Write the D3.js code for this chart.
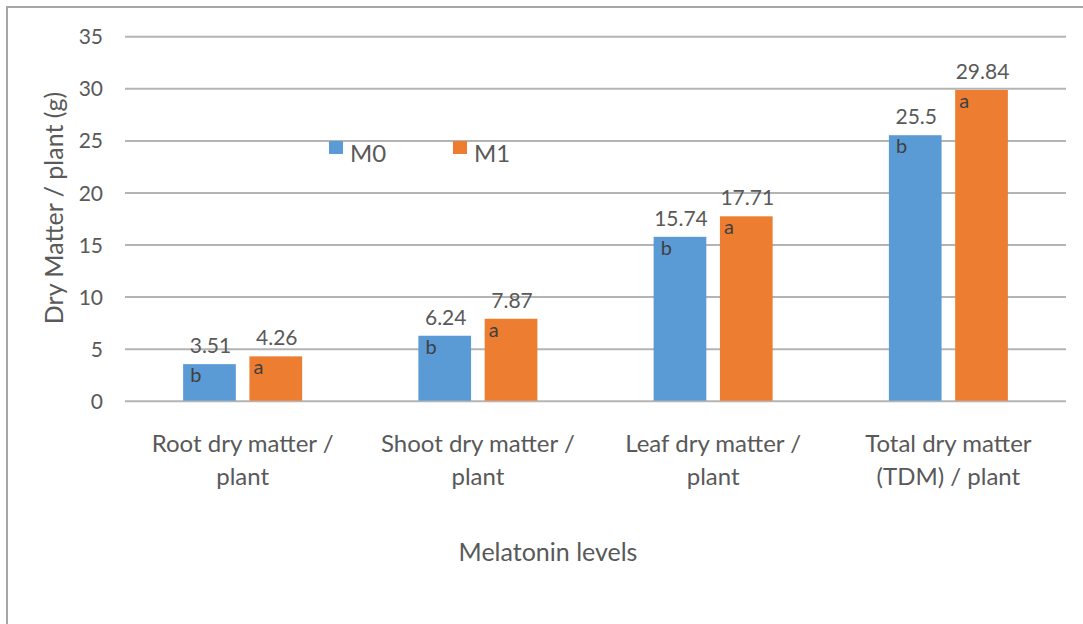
<!DOCTYPE html>
<html>
<head>
<meta charset="utf-8">
<script src="https://cdn.jsdelivr.net/npm/d3@7/dist/d3.min.js"></script>
<style>
  html, body { margin: 0; padding: 0; background: #fff; }
  svg { display: block; }
  text { font-family: Lato, "Open Sans", sans-serif; fill: #595959; }
</style>
</head>
<body>
<svg id="chart" width="1083" height="624"></svg>
<script>
// Dry matter per plant (g) by organ, for two melatonin levels
const categories = [
  ["Root dry matter /", "plant"],
  ["Shoot dry matter /", "plant"],
  ["Leaf dry matter /", "plant"],
  ["Total dry matter", "(TDM) / plant"]
];
const seriesNames = ["M0", "M1"];
const m0Values = [3.51, 6.24, 15.74, 25.5];
const m1Values = [4.26, 7.87, 17.71, 29.84];
const m0Letters = ["b", "b", "b", "b"];
const m1Letters = ["a", "a", "a", "a"];
const yTicks = [0, 5, 10, 15, 20, 25, 30, 35];
const colors = ["#5B9BD5", "#ED7D31"];

const svg = d3.select("#chart");
const W = 1083, H = 624;
const plot = { left: 125, right: 1066, top: 36.3, bottom: 400.7 };

// outer frame (left and top edges)
svg.append("path")
  .attr("d", `M7,${H} L7,7 L${W},7`)
  .attr("fill", "none").attr("stroke", "#a6a6a6").attr("stroke-width", 2);

const x0 = d3.scaleBand()
  .domain(d3.range(categories.length))
  .range([plot.left, plot.right])
  .paddingInner(0).paddingOuter(0);

const groupWidth = 119;
const x1 = d3.scaleBand()
  .domain(seriesNames)
  .range([0, groupWidth])
  .paddingInner(0.205);

const y = d3.scaleLinear().domain([0, 35]).range([plot.bottom, plot.top]);

// gridlines and tick labels via axis
const yAxis = d3.axisLeft(y).tickValues(yTicks)
  .tickSize(-(plot.right - plot.left)).tickPadding(22);
const gy = svg.append("g")
  .attr("transform", `translate(${plot.left},0)`)
  .call(yAxis);
gy.select(".domain").remove();
gy.selectAll(".tick line").attr("stroke", "#b4b4b4").attr("stroke-width", 2);
gy.selectAll(".tick text")
  .attr("font-size", 21).attr("fill", "#595959").attr("dy", "0.36em")
  .style("font-family", "Lato, 'Open Sans', sans-serif");

const rows = categories.map((c, i) => ({
  i,
  vals: [
    { s: "M0", v: m0Values[i], l: m0Letters[i], c: colors[0], dx: 7 },
    { s: "M1", v: m1Values[i], l: m1Letters[i], c: colors[1], dx: 4 }
  ]
}));

const groups = svg.selectAll("g.grp").data(rows).enter().append("g")
  .attr("class", "grp")
  .attr("transform", d => `translate(${x0(d.i) + (x0.bandwidth() - groupWidth) / 2},0)`);

const bars = groups.selectAll("g.bar").data(d => d.vals).enter().append("g").attr("class", "bar");

bars.append("rect")
  .attr("x", d => x1(d.s))
  .attr("y", d => y(d.v))
  .attr("width", x1.bandwidth())
  .attr("height", d => y(0) - y(d.v))
  .attr("fill", d => d.c);

// value labels above bars
bars.append("text")
  .attr("x", d => x1(d.s) + x1.bandwidth() / 2 + 1)
  .attr("y", d => y(d.v) - 11)
  .attr("text-anchor", "middle")
  .attr("font-size", 21)
  .text(d => d.v);

// significance letters inside bars
bars.append("text")
  .attr("x", d => x1(d.s) + d.dx)
  .attr("y", d => y(d.v) + 18)
  .attr("font-size", 20)
  .style("fill", "#404040")
  .text(d => d.l);

// category labels
const catG = svg.selectAll("text.cat").data(categories).enter().append("text")
  .attr("class", "cat")
  .attr("text-anchor", "middle")
  .attr("font-size", 24)
  .attr("transform", (d, i) => `translate(${x0(i) + x0.bandwidth() / 2},0)`);
catG.selectAll("tspan").data(d => d).enter().append("tspan")
  .attr("x", 0)
  .attr("y", (d, j) => 452 + j * 33)
  .text(d => d);

// axis titles
svg.append("text")
  .attr("x", 548).attr("y", 561)
  .attr("text-anchor", "middle")
  .attr("font-size", 25)
  .text("Melatonin levels");

svg.append("text")
  .attr("transform", "translate(63,208) rotate(-90)")
  .attr("text-anchor", "middle")
  .attr("font-size", 25)
  .text("Dry Matter / plant (g)");

// legend
const legend = svg.selectAll("g.leg").data(seriesNames).enter().append("g")
  .attr("class", "leg")
  .attr("transform", (d, i) => `translate(${329 + i * 124},141)`);
legend.append("rect").attr("width", 14).attr("height", 13).attr("fill", (d, i) => colors[i]);
legend.append("text").attr("x", 21).attr("y", 21).attr("font-size", 24).text(d => d);
</script>
</body>
</html>
